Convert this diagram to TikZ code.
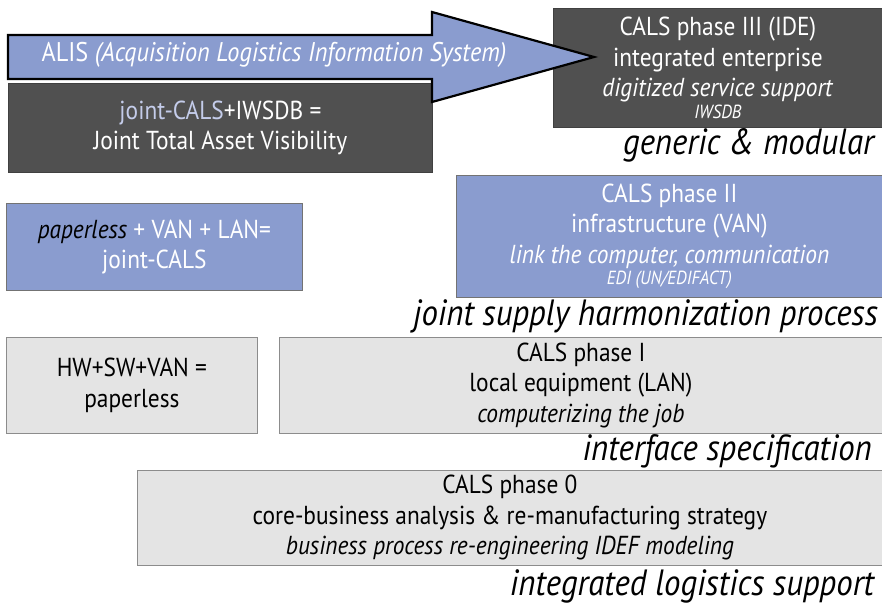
\documentclass[tikz,border=0pt]{standalone}
\usepackage{fontspec}
\setmainfont{PT Sans}[FakeStretch=0.9]
\usetikzlibrary{positioning}
\definecolor{darkfill}{HTML}{505050}
\definecolor{bluefill}{HTML}{8A9CCF}
\definecolor{greyfill}{HTML}{E4E4E4}
\definecolor{lightblue}{HTML}{C4CCEA}
\tikzset{
  panel/.style={line width=0.8pt, anchor=north west, inner sep=0pt, align=center},
  darkbox/.style={panel, fill=darkfill, text=white, draw=darkfill!80!black},
  bluebox/.style={panel, fill=bluefill, text=white, draw=black!55},
  greybox/.style={panel, fill=greyfill, text=black, draw=black!45},
  body/.style={font=\fontsize{26}{30.5}\selectfont},
  tag/.style={font=\fontsize{36.5}{40}\selectfont\itshape, anchor=east, inner sep=0pt}
}
\begin{document}
\begin{tikzpicture}[x=1pt,y=-1pt]
\useasboundingbox (0,0) rectangle (882,606);

% top layer: integrated enterprise
\node[darkbox, minimum width=329, minimum height=119, body] (p3) at (553,8)
  {CALS phase III (IDE)\\integrated enterprise\\\textit{digitized service support}\\[-9pt]{\fontsize{19}{20}\selectfont\itshape IWSDB}};
\node[darkbox, minimum width=424, minimum height=89, body] (jtav) at (8,83)
  {\textcolor{lightblue}{joint-CALS}+IWSDB =\\Joint Total Asset Visibility};

% ALIS arrow pointing into phase III
\draw[line width=2.2pt, fill=bluefill, line join=miter]
  (8,35) -- (432,35) -- (432,12) -- (594,57) -- (432,102) -- (432,79) -- (8,79) -- cycle;
\node[font=\fontsize{27}{30}\selectfont, text=white, inner sep=0pt] (alis) at (274,55)
  {ALIS \textit{(Acquisition Logistics Information System)}};

\node[tag] (t3) at (874,145) {generic \& modular};

% phase II
\node[bluebox, minimum width=296, minimum height=87, body] (jc) at (6,203)
  {\textcolor{black}{\textit{paperless}} + VAN + LAN=\\joint-CALS};
\node[bluebox, minimum width=426, minimum height=122, body] (p2) at (456,175)
  {CALS phase II\\infrastructure (VAN)\\\textit{link the computer, communication}\\[-9pt]{\fontsize{19}{20}\selectfont\itshape EDI (UN/EDIFACT)}};
\node[tag] (t2) at (878,316) {joint supply harmonization process};

% phase I
\node[greybox, minimum width=251, minimum height=96, body] (pl) at (6,337)
  {HW+SW+VAN =\\paperless};
\node[greybox, minimum width=603, minimum height=96, body] (p1) at (279,337)
  {CALS phase I\\local equipment (LAN)\\\textit{computerizing the job}};
\node[tag] (t1) at (872,451) {interface specification};

% phase 0
\node[greybox, minimum width=745, minimum height=95, body] (p0) at (137,470)
  {CALS phase 0\\core-business analysis \& re-manufacturing strategy\\\textit{business process re-engineering IDEF modeling}};
\node[tag] (t0) at (874,586) {integrated logistics support};
\end{tikzpicture}
\end{document}
